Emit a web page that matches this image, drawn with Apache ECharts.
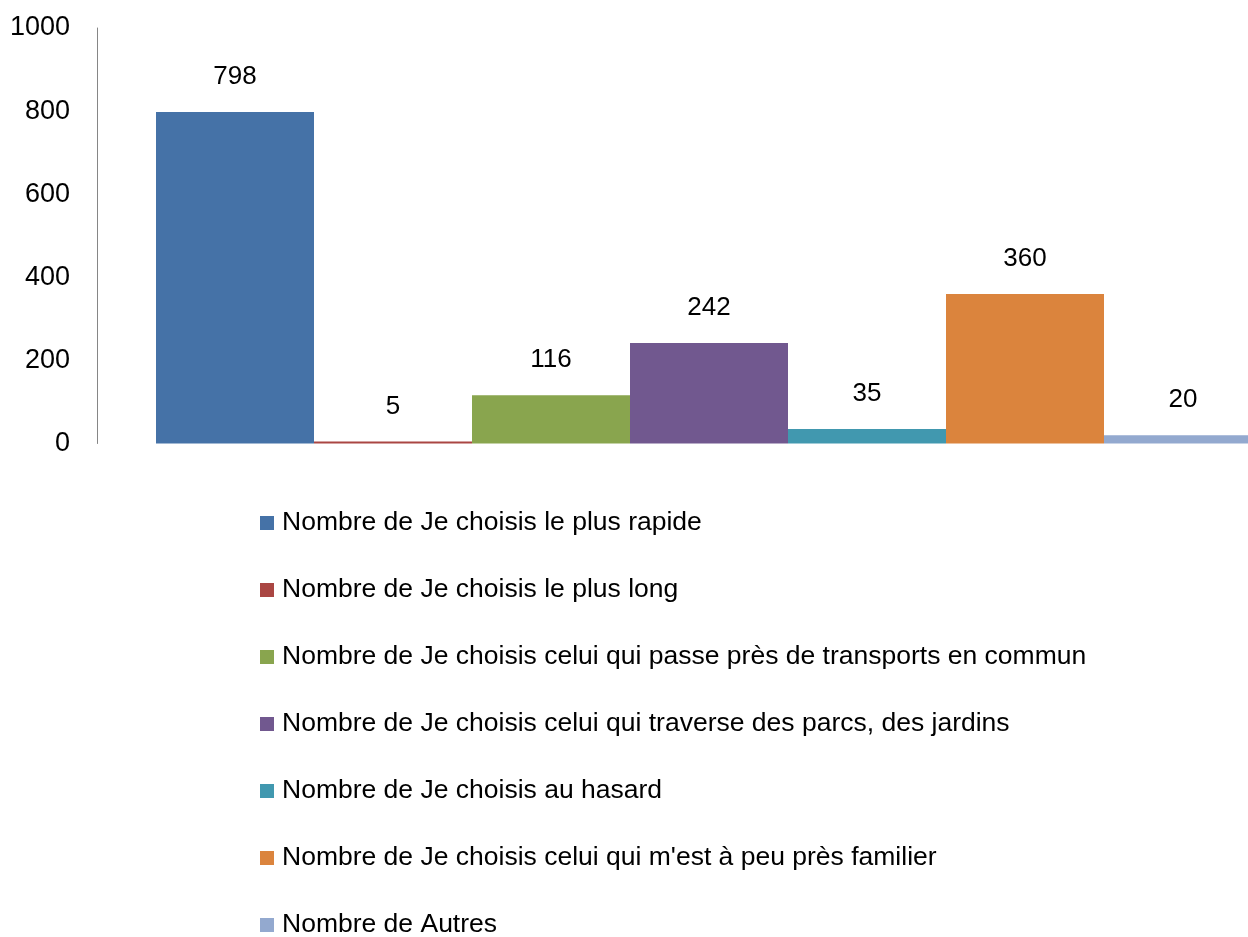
<!DOCTYPE html>
<html><head><meta charset="utf-8">
<script src="https://cdn.jsdelivr.net/npm/echarts@6/dist/echarts.min.js"></script>
<style>html,body{margin:0;padding:0;background:#fff}#c{width:1248px;height:937px}</style>
</head><body><div id="c"></div>
<script>
const seriesNames = [
  "Nombre de Je choisis le plus rapide",
  "Nombre de Je choisis le plus long",
  "Nombre de Je choisis celui qui passe près de transports en commun",
  "Nombre de Je choisis celui qui traverse des parcs, des jardins",
  "Nombre de Je choisis au hasard",
  "Nombre de Je choisis celui qui m'est à peu près familier",
  "Nombre de Autres"
];
const seriesValues = [798, 5, 116, 242, 35, 360, 20];
const colors = ["#4572A7", "#AA4643", "#89A54E", "#71588F", "#4198AF", "#DB843D", "#93A9CF"];
const categories = ["Total"];
const yTicks = { min: 0, max: 1000, interval: 200 };

const FONT = "'Liberation Sans', Arial, sans-serif";
const chart = echarts.init(document.getElementById('c'), null, { renderer: 'canvas' });
chart.setOption({
  animation: false,
  backgroundColor: '#fff',
  grid: { left: 97, top: 28, height: 415.5, right: -73, containLabel: false, outerBoundsMode: 'none' },
  xAxis: {
    type: 'category', data: categories,
    axisLine: { show: false }, axisTick: { show: false }, axisLabel: { show: false },
    splitLine: { show: false }
  },
  yAxis: {
    type: 'value', min: yTicks.min, max: yTicks.max, interval: yTicks.interval,
    axisLine: { show: true, lineStyle: { color: '#868686', width: 1 } },
    axisTick: { show: false },
    splitLine: { show: false },
    axisLabel: { color: '#000', fontFamily: FONT, fontSize: 27, margin: 27, formatter: v => String(v) }
  },
  legend: {
    type: 'plain', orient: 'vertical', left: 255, top: 503, height: 434,
    itemWidth: 14, itemHeight: 14, itemGap: 37,
    icon: 'rect',
    textStyle: { color: '#000', fontFamily: FONT, fontSize: 26.5, lineHeight: 30, padding: [0, 0, 0, 3] },
    data: seriesNames
  },
  series: seriesNames.map((n, i) => ({
    name: n, type: 'bar', data: [seriesValues[i]],
    barWidth: 158, barGap: '0%',
    itemStyle: { color: colors[i] },
    label: { show: true, position: 'top', distance: 22, color: '#000', fontFamily: FONT, fontSize: 26 }
  }))
});
</script></body></html>
